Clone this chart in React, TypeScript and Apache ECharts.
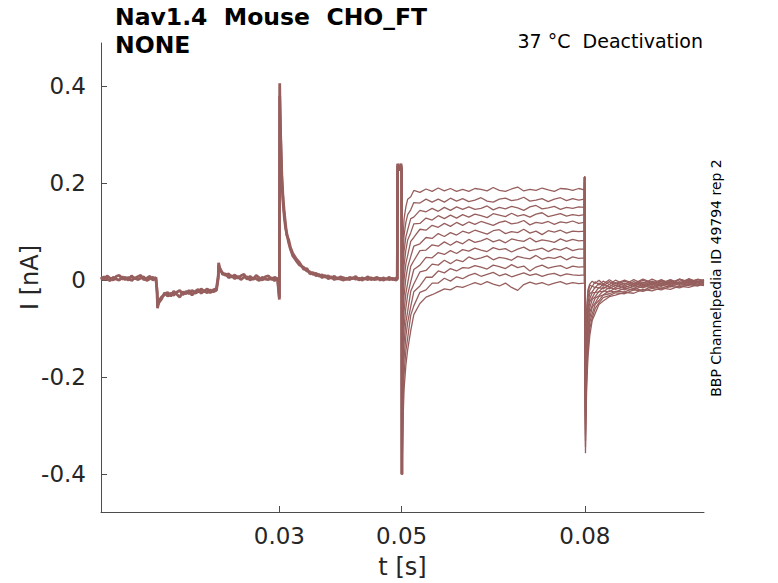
import { useEffect, useRef } from "react";
import * as echarts from "echarts";

// time samples (s) of the part shared by every sweep
const preTime = [
  0.0008, 0.0013, 0.0018, 0.0023, 0.0028, 0.0033, 0.0038, 0.0043, 0.0048, 0.0053,
  0.0058, 0.0063, 0.0068, 0.0073, 0.0078, 0.0083, 0.0088, 0.0093, 0.0098,
  0.01, 0.01005, 0.0103, 0.0107, 0.0112, 0.0117, 0.0122, 0.0127, 0.0132, 0.0137,
  0.0142, 0.0147, 0.0152, 0.0157, 0.0162, 0.0167, 0.0172, 0.0177, 0.0182, 0.0187,
  0.0192, 0.0197,
  0.02, 0.02005, 0.0203, 0.0207, 0.0212, 0.0217, 0.0222, 0.0227, 0.0232, 0.0237,
  0.0242, 0.0247, 0.0252, 0.0257, 0.0262, 0.0267, 0.0272, 0.0277, 0.0282, 0.0287,
  0.0292, 0.0297,
  0.03, 0.03005, 0.0301, 0.0302, 0.0304, 0.0306, 0.0308, 0.031, 0.0312, 0.0315,
  0.0318, 0.0322, 0.0327, 0.0333, 0.034, 0.0345, 0.035, 0.0355, 0.036, 0.0365,
  0.037, 0.0375, 0.038, 0.0385, 0.039, 0.0395, 0.04, 0.0405, 0.041, 0.0415,
  0.042, 0.0425, 0.043, 0.0435, 0.044, 0.0445, 0.045, 0.0455, 0.046, 0.0465,
  0.047, 0.0475, 0.048, 0.0485, 0.049, 0.0493,
  0.04935, 0.0495, 0.0497, 0.0499, 0.05, 0.05005,
];

// two noisy copies of the common part (nA)
const preA = [
  0.007, 0.001, 0.009, 0.004, 0.0, 0.008, 0.01, 0.002, 0.006, 0.0,
  0.009, 0.003, 0.007, 0.01, 0.001, 0.004, 0.008, 0.0, 0.006,
  -0.03, -0.058, -0.042, -0.035, -0.03, -0.025, -0.033, -0.023, -0.029, -0.035,
  -0.024, -0.028, -0.021, -0.031, -0.023, -0.019, -0.027, -0.022, -0.018, -0.026,
  -0.02, -0.017,
  0.01, 0.036, 0.021, 0.015, 0.01, 0.013, 0.006, 0.011, 0.004, 0.009,
  0.012, 0.002, 0.008, 0.001, 0.01, 0.005, 0.0, 0.007, 0.009, 0.001,
  0.006, 0.003,
  -0.04, 0.406, 0.35, 0.29, 0.205, 0.16, 0.13, 0.108, 0.097, 0.078,
  0.064, 0.05, 0.041, 0.031, 0.026, 0.019, 0.017, 0.012, 0.014, 0.008,
  0.011, 0.006, 0.009, 0.004, 0.008, 0.002, 0.007, 0.005, 0.001, 0.006,
  0.003, 0.008, 0.0, 0.005, 0.003, 0.007, 0.001, 0.004, 0.006, 0.0,
  0.005, 0.002, 0.006, 0.001, 0.004, 0.003,
  0.236, 0.228, 0.232, 0.24, 0.23, -0.4,
];

const preB = [
  0.001, 0.007, 0.002, -0.001, 0.006, 0.002, 0.0, 0.007, 0.001, 0.006,
  -0.001, 0.005, 0.001, 0.004, 0.007, -0.001, 0.003, 0.006, 0.001,
  -0.025, -0.052, -0.046, -0.039, -0.026, -0.033, -0.027, -0.031, -0.025, -0.021,
  -0.03, -0.023, -0.028, -0.021, -0.027, -0.024, -0.018, -0.023, -0.026, -0.02,
  -0.024, -0.021,
  0.005, 0.03, 0.024, 0.012, 0.013, 0.005, 0.009, 0.003, 0.008, 0.001,
  0.006, 0.007, 0.0, 0.005, 0.003, -0.001, 0.006, 0.002, 0.001, 0.005,
  -0.001, 0.004,
  -0.036, 0.38, 0.36, 0.3, 0.215, 0.17, 0.14, 0.116, 0.093, 0.084,
  0.068, 0.055, 0.045, 0.036, 0.022, 0.024, 0.013, 0.016, 0.009, 0.012,
  0.005, 0.01, 0.003, 0.007, 0.001, 0.005, 0.002, 0.0, 0.004, 0.001,
  0.005, 0.002, 0.004, 0.0, 0.003, 0.001, 0.005, 0.001, 0.002, 0.004,
  0.0, 0.003, 0.001, 0.004, 0.0, 0.002,
  0.24, 0.234, 0.226, 0.236, 0.225, -0.4,
];

// step 0.05 – 0.08 s
const plateauTime = [
  0.0501, 0.0502, 0.0504, 0.0507, 0.051, 0.0515, 0.052, 0.053, 0.054, 0.055,
  0.056, 0.057, 0.058, 0.059, 0.06, 0.061, 0.062, 0.063, 0.064, 0.065,
  0.066, 0.067, 0.068, 0.069, 0.07, 0.071, 0.072, 0.073, 0.074, 0.075,
  0.076, 0.077, 0.078, 0.079, 0.0799,
];

const plateau0 = [
  -0.4, 0.066, 0.126, 0.151, 0.167, 0.172, 0.185, 0.181, 0.188, 0.183,
  0.19, 0.184, 0.189, 0.183, 0.187, 0.183, 0.189, 0.187, 0.184, 0.191,
  0.185, 0.183, 0.188, 0.192, 0.184, 0.187, 0.185, 0.19, 0.186, 0.183,
  0.189, 0.188, 0.185, 0.189, 0.186,
];
const plateau1 = [
  -0.4, 0.03, 0.091, 0.119, 0.135, 0.145, 0.16, 0.159, 0.167, 0.161,
  0.167, 0.161, 0.169, 0.163, 0.168, 0.162, 0.165, 0.17, 0.163, 0.161,
  0.167, 0.169, 0.164, 0.166, 0.171, 0.163, 0.165, 0.168, 0.162, 0.167,
  0.17, 0.164, 0.168, 0.165, 0.167,
];
const plateau2 = [
  -0.4, -0.004, 0.06, 0.089, 0.104, 0.127, 0.13, 0.144, 0.141, 0.148,
  0.142, 0.15, 0.144, 0.151, 0.146, 0.151, 0.146, 0.148, 0.153, 0.145,
  0.15, 0.147, 0.152, 0.149, 0.144, 0.151, 0.154, 0.147, 0.149, 0.152,
  0.146, 0.15, 0.148, 0.151, 0.15,
];
const plateau3 = [
  -0.4, -0.035, 0.03, 0.062, 0.083, 0.098, 0.116, 0.117, 0.128, 0.124,
  0.133, 0.127, 0.134, 0.128, 0.135, 0.13, 0.136, 0.133, 0.129, 0.137,
  0.134, 0.131, 0.138, 0.132, 0.135, 0.13, 0.136, 0.139, 0.131, 0.134,
  0.137, 0.132, 0.135, 0.133, 0.135,
];
const plateau4 = [
  -0.4, -0.068, 0.0, 0.034, 0.051, 0.08, 0.088, 0.105, 0.103, 0.113,
  0.109, 0.117, 0.111, 0.119, 0.113, 0.12, 0.115, 0.121, 0.117, 0.113,
  0.119, 0.122, 0.116, 0.118, 0.123, 0.114, 0.119, 0.117, 0.121, 0.115,
  0.12, 0.118, 0.122, 0.117, 0.119,
];
const plateau5 = [
  -0.4, -0.102, -0.033, 0.004, 0.027, 0.049, 0.07, 0.075, 0.088, 0.086,
  0.096, 0.09, 0.098, 0.093, 0.101, 0.097, 0.103, 0.099, 0.095, 0.102,
  0.104, 0.096, 0.1, 0.098, 0.105, 0.097, 0.101, 0.094, 0.102, 0.099,
  0.103, 0.097, 0.101, 0.1, 0.101,
];
const plateau6 = [
  -0.4, -0.136, -0.065, -0.027, -0.006, 0.029, 0.04, 0.061, 0.062, 0.073,
  0.07, 0.079, 0.072, 0.08, 0.075, 0.084, 0.078, 0.081, 0.086, 0.079,
  0.083, 0.077, 0.085, 0.082, 0.08, 0.087, 0.079, 0.083, 0.081, 0.078,
  0.085, 0.08, 0.084, 0.081, 0.082,
];
const plateau7 = [
  -0.4, -0.171, -0.098, -0.057, -0.03, -0.003, 0.022, 0.031, 0.047, 0.046,
  0.057, 0.053, 0.061, 0.055, 0.063, 0.06, 0.066, 0.062, 0.059, 0.067,
  0.063, 0.065, 0.058, 0.064, 0.068, 0.061, 0.063, 0.066, 0.059, 0.065,
  0.062, 0.067, 0.061, 0.064, 0.064,
];
const plateau8 = [
  -0.4, -0.205, -0.13, -0.087, -0.064, -0.023, -0.008, 0.017, 0.02, 0.033,
  0.031, 0.041, 0.034, 0.042, 0.038, 0.048, 0.043, 0.046, 0.05, 0.042,
  0.047, 0.045, 0.041, 0.049, 0.046, 0.044, 0.051, 0.043, 0.047, 0.045,
  0.049, 0.042, 0.048, 0.045, 0.046,
];
const plateau9 = [
  -0.4, -0.239, -0.162, -0.116, -0.087, -0.054, -0.024, -0.012, 0.006, 0.006,
  0.019, 0.015, 0.024, 0.019, 0.026, 0.025, 0.03, 0.027, 0.023, 0.031,
  0.028, 0.024, 0.032, 0.026, 0.029, 0.019, 0.027, 0.031, 0.025, 0.028,
  0.03, 0.024, 0.029, 0.027, 0.028,
];
const plateau10 = [
  -0.4, -0.272, -0.194, -0.146, -0.119, -0.072, -0.053, -0.025, -0.02, -0.006,
  -0.006, 0.004, -0.002, 0.007, 0.003, 0.01, 0.014, 0.008, 0.012, 0.016,
  0.009, 0.013, 0.007, 0.011, 0.015, 0.01, 0.013, 0.008, 0.012, 0.014,
  0.009, 0.013, 0.011, 0.01, 0.011,
];
const plateau11 = [
  -0.4, -0.306, -0.226, -0.176, -0.143, -0.104, -0.071, -0.048, -0.035, -0.03,
  -0.024, -0.018, -0.02, -0.013, -0.015, -0.01, -0.005, -0.009, -0.003, -0.008,
  -0.012, -0.006, -0.015, -0.021, -0.009, -0.004, -0.008, -0.005, -0.01, -0.006,
  -0.003, -0.008, -0.005, -0.007, -0.006,
];

// return to holding at 0.08 s
const tailTime = [
  0.07995, 0.0801, 0.08015, 0.0803, 0.0805, 0.0808, 0.0812, 0.0817, 0.0823, 0.083,
  0.084, 0.085, 0.0865, 0.088, 0.0895, 0.091, 0.0925, 0.094, 0.0955, 0.097,
  0.0985, 0.0995,
];

const tail0 = [
  0.213, -0.357, -0.3, -0.22, -0.16, -0.115, -0.083, -0.068, -0.05, -0.043,
  -0.034, -0.031, -0.025, -0.027, -0.019, -0.022, -0.016, -0.019, -0.012, -0.015,
  -0.009, -0.011,
];
const tail1 = [
  0.213, -0.344, -0.282, -0.201, -0.143, -0.1, -0.078, -0.058, -0.047, -0.036,
  -0.032, -0.026, -0.028, -0.02, -0.023, -0.017, -0.02, -0.013, -0.016, -0.009,
  -0.012, -0.008,
];
const tail2 = [
  0.213, -0.331, -0.264, -0.182, -0.126, -0.087, -0.069, -0.05, -0.042, -0.031,
  -0.028, -0.023, -0.024, -0.017, -0.021, -0.013, -0.017, -0.01, -0.014, -0.007,
  -0.01, -0.006,
];
const tail3 = [
  0.213, -0.32, -0.248, -0.164, -0.111, -0.079, -0.056, -0.047, -0.034, -0.03,
  -0.022, -0.024, -0.017, -0.02, -0.012, -0.016, -0.01, -0.014, -0.006, -0.011,
  -0.004, -0.007,
];
const tail4 = [
  0.213, -0.309, -0.233, -0.148, -0.097, -0.066, -0.052, -0.037, -0.032, -0.022,
  -0.024, -0.016, -0.02, -0.011, -0.016, -0.008, -0.013, -0.005, -0.011, -0.003,
  -0.008, -0.004,
];
const tail5 = [
  0.213, -0.298, -0.218, -0.132, -0.083, -0.057, -0.04, -0.034, -0.023, -0.024,
  -0.015, -0.019, -0.012, -0.017, -0.008, -0.014, -0.006, -0.011, -0.003, -0.009,
  -0.002, -0.005,
];
const tail6 = [
  0.213, -0.289, -0.204, -0.118, -0.07, -0.045, -0.036, -0.025, -0.024, -0.014,
  -0.018, -0.01, -0.016, -0.007, -0.013, -0.005, -0.011, -0.002, -0.009, 0.0,
  -0.006, -0.002,
];
const tail7 = [
  0.213, -0.28, -0.192, -0.105, -0.059, -0.039, -0.026, -0.025, -0.015, -0.018,
  -0.009, -0.015, -0.006, -0.013, -0.004, -0.011, -0.002, -0.009, 0.001, -0.007,
  0.001, -0.003,
];
const tail8 = [
  0.213, -0.271, -0.18, -0.092, -0.048, -0.028, -0.024, -0.014, -0.017, -0.008,
  -0.014, -0.005, -0.012, -0.003, -0.011, -0.002, -0.009, 0.0, -0.007, 0.002,
  -0.005, 0.0,
];
const tail9 = [
  0.213, -0.263, -0.168, -0.079, -0.037, -0.021, -0.012, -0.016, -0.006, -0.012,
  -0.003, -0.011, -0.002, -0.01, 0.0, -0.008, 0.001, -0.007, 0.002, -0.005,
  0.002, -0.002,
];
const tail10 = [
  0.213, -0.255, -0.158, -0.068, -0.027, -0.01, -0.013, -0.003, -0.01, -0.002,
  -0.009, 0.0, -0.009, 0.001, -0.008, 0.002, -0.006, 0.001, -0.006, 0.003,
  -0.004, 0.001,
];
const tail11 = [
  0.213, -0.25, -0.15, -0.06, -0.02, -0.008, -0.002, -0.007, 0.0, -0.008,
  0.001, -0.007, 0.0, -0.007, 0.002, -0.005, -0.001, -0.006, 0.002, -0.003,
  0.001, 0.0,
];

const plateaus = [
  plateau0, plateau1, plateau2, plateau3, plateau4, plateau5,
  plateau6, plateau7, plateau8, plateau9, plateau10, plateau11,
];
const tails = [
  tail0, tail1, tail2, tail3, tail4, tail5,
  tail6, tail7, tail8, tail9, tail10, tail11,
];

const xTicks = [0.03, 0.05, 0.08];
const yTicks = [-0.4, -0.2, 0, 0.2, 0.4];

const TRACE_COLOR = "#965f5e";
const AXIS_COLOR = "#4d4d4d";
const TEXT_COLOR = "#262626";
const FONT = "DejaVu Sans";

function zip(t: number[], v: number[]): [number, number][] {
  return t.map((x, i) => [x, v[i]]);
}

export default function App() {
  const chartRef = useRef<HTMLDivElement | null>(null);

  useEffect(() => {
    if (!chartRef.current) {
      return;
    }

    const chart = echarts.init(chartRef.current, null, { renderer: "svg" });

    // the overlapping common part, drawn as a thick noisy band
    const bandSeries = [preA, preB].map((values) => ({
      type: "line",
      showSymbol: false,
      silent: true,
      data: zip(preTime, values),
      lineStyle: { color: TRACE_COLOR, width: 2.8 },
    }));

    const traceSeries = plateaus.map((plateau, i) => ({
      type: "line",
      showSymbol: false,
      silent: true,
      data: [...zip(plateauTime, plateau), ...zip(tailTime, tails[i])],
      lineStyle: { color: TRACE_COLOR, width: 1.3 },
    }));

    chart.setOption({
      animation: false,
      backgroundColor: "#ffffff",
      textStyle: { fontFamily: FONT },
      title: {
        text: "Nav1.4  Mouse  CHO_FT\nNONE",
        left: 110,
        top: -2,
        textStyle: {
          fontFamily: FONT,
          fontSize: 23.5,
          fontWeight: "bold",
          lineHeight: 28,
          color: "#000000",
        },
      },
      graphic: [
        {
          type: "text",
          x: 703,
          y: 41,
          style: {
            text: "37 °C  Deactivation",
            fontFamily: FONT,
            fontSize: 19,
            fill: "#000000",
            textAlign: "right",
            textVerticalAlign: "middle",
          },
        },
        {
          type: "text",
          x: 716,
          y: 278,
          rotation: Math.PI / 2,
          style: {
            text: "BBP Channelpedia ID 49794 rep 2",
            fontFamily: FONT,
            fontSize: 14,
            fill: "#000000",
            textAlign: "center",
            textVerticalAlign: "middle",
          },
        },
      ],
      grid: {
        left: 101,
        right: 74,
        top: 43,
        bottom: 71,
        outerBoundsMode: "none",
      },
      xAxis: {
        type: "value",
        min: 0.0008,
        max: 0.0995,
        name: "t [s]",
        nameLocation: "middle",
        nameGap: 43,
        nameMoveOverlap: false,
        nameTextStyle: { fontFamily: FONT, fontSize: 24, color: TEXT_COLOR },
        axisLine: {
          show: true,
          onZero: false,
          lineStyle: { color: AXIS_COLOR, width: 1 },
        },
        axisTick: {
          show: true,
          inside: true,
          length: 6,
          customValues: xTicks,
          lineStyle: { color: AXIS_COLOR },
        },
        axisLabel: {
          customValues: xTicks,
          margin: 12,
          fontFamily: FONT,
          fontSize: 23,
          color: TEXT_COLOR,
        },
        splitLine: { show: false },
      },
      yAxis: {
        type: "value",
        min: -0.478,
        max: 0.489,
        name: "I [nA]",
        nameLocation: "middle",
        nameRotate: 90,
        nameGap: 59,
        nameMoveOverlap: false,
        nameTextStyle: { fontFamily: FONT, fontSize: 24, color: TEXT_COLOR },
        axisLine: {
          show: true,
          onZero: false,
          lineStyle: { color: AXIS_COLOR, width: 1 },
        },
        axisTick: {
          show: true,
          inside: true,
          length: 6,
          customValues: yTicks,
          lineStyle: { color: AXIS_COLOR },
        },
        axisLabel: {
          customValues: yTicks,
          margin: 15,
          fontFamily: FONT,
          fontSize: 23,
          color: TEXT_COLOR,
        },
        splitLine: { show: false },
      },
      series: [...bandSeries, ...traceSeries],
    });

    return () => {
      chart.dispose();
    };
  }, []);

  return (
    <div
      ref={chartRef}
      style={{ position: "fixed", left: 0, top: 0, width: 778, height: 583 }}
    />
  );
}
